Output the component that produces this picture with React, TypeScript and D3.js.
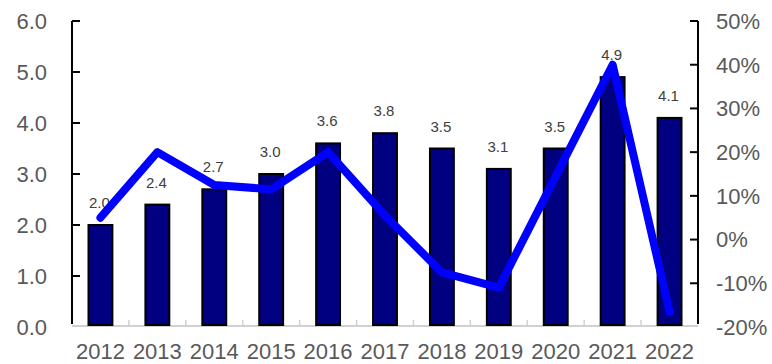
import React from "react";
import * as d3 from "d3";

const years = ["2012","2013","2014","2015","2016","2017","2018","2019","2020","2021","2022"];
const values = [2.0, 2.4, 2.7, 3.0, 3.6, 3.8, 3.5, 3.1, 3.5, 4.9, 4.1];
const growth = [5, 20, 12.5, 11.5, 20, 5.5, -7.5, -11, 14.5, 40, -16.5];
const leftTicks = [0, 1, 2, 3, 4, 5, 6];
const rightTicks = [-20, -10, 0, 10, 20, 30, 40, 50];

const W = 772, H = 364;
const X0 = 72, X1 = 698, YB = 327, YT = 21;
const FONT = "'Liberation Sans', Arial, sans-serif";

export default function App() {
  const x = d3.scaleBand<string>().domain(years).range([X0, X1]).paddingInner(0).paddingOuter(0);
  const yL = d3.scaleLinear().domain([0, 6]).range([YB, YT]);
  const yR = d3.scaleLinear().domain([-20, 50]).range([YB, YT]);
  const bw = x.bandwidth() * 0.42;
  const line = d3.line<number>()
    .x((_, i) => (x(years[i]) as number) + x.bandwidth() / 2)
    .y((d) => yR(d));
  return (
    <svg width={W} height={H} style={{ position: "absolute", left: 0, top: 0, background: "#fff" }}>
      {/* bottom axis */}
      <line x1={X0} x2={X1} y1={YB - 1} y2={YB - 1} stroke="#d0d0d0" strokeWidth={2} />
      {years.map((y, i) => i > 0 ? (
        <line key={"bt" + y} x1={x(y)} x2={x(y)} y1={YB - 7} y2={YB - 1} stroke="#d0d0d0" strokeWidth={1.5} />
      ) : null)}
      {/* left axis */}
      <line x1={X0} x2={X0} y1={YT} y2={YB - 3} stroke="#000" strokeWidth={2} />
      {leftTicks.map((t) => (
        <g key={"lt" + t}>
          {t > 0 && <line x1={X0} x2={X0 + 8} y1={yL(t)} y2={yL(t)} stroke="#000" strokeWidth={2} />}
          <text x={47} y={yL(t)} dy="0.36em" textAnchor="end" fontFamily={FONT} fontSize={22} fill="#595959">{t.toFixed(1)}</text>
        </g>
      ))}
      {/* right axis */}
      <line x1={X1} x2={X1} y1={YT} y2={YB - 3} stroke="#000" strokeWidth={2} />
      {rightTicks.map((t) => (
        <g key={"rt" + t}>
          {t > -20 && <line x1={X1 - 8} x2={X1} y1={yR(t)} y2={yR(t)} stroke="#000" strokeWidth={2} />}
          <text x={716} y={yR(t)} dy="0.36em" textAnchor="start" fontFamily={FONT} fontSize={22} fill="#595959">{t + "%"}</text>
        </g>
      ))}
      {/* bars */}
      {values.map((v, i) => {
        const cx = (x(years[i]) as number) + x.bandwidth() / 2;
        return (
          <g key={"b" + i}>
            <rect x={cx - bw / 2} y={yL(v)} width={bw} height={YB - 2 - yL(v)} fill="#000080" stroke="#000" strokeWidth={2} />
            <text x={cx - 1} y={yL(v) - 17} textAnchor="middle" fontFamily={FONT} fontSize={15} fill="#404040">{v.toFixed(1)}</text>
          </g>
        );
      })}
      {/* line */}
      <path d={line(growth) || ""} fill="none" stroke="#0000ff" strokeWidth={8} strokeLinecap="round" strokeLinejoin="round" />
      {/* x labels */}
      {years.map((y) => (
        <text key={"xl" + y} x={(x(y) as number) + x.bandwidth() / 2} y={359} textAnchor="middle" fontFamily={FONT} fontSize={22} fill="#595959">{y}</text>
      ))}
    </svg>
  );
}
